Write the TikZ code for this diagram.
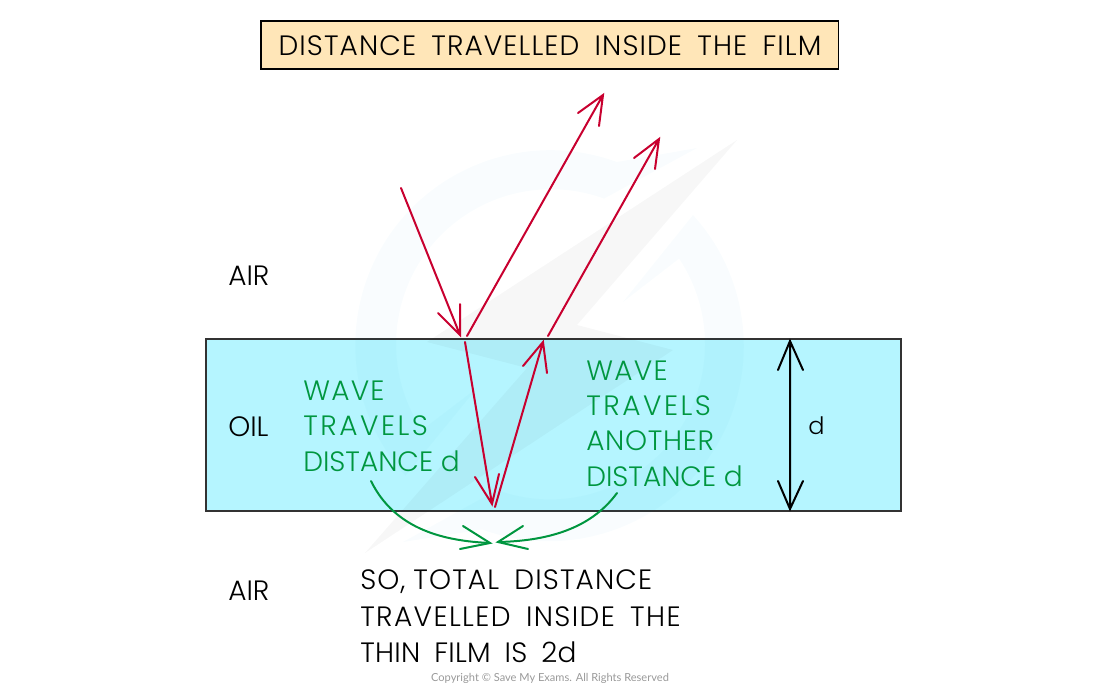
\documentclass[tikz,border=0pt]{standalone}
\usepackage{fontspec}
\setmainfont{Poppins}[UprightFont={* Light}]
\newfontfamily\copyfont{Lato}
\newcommand{\spaced}[3]{{\addfontfeature{LetterSpace=#1}\spaceskip=#2pt\relax #3}}
\usetikzlibrary{arrows.meta}
\definecolor{redray}{HTML}{C8002F}
\definecolor{greentxt}{HTML}{00963F}
\definecolor{oilfill}{HTML}{B5F5FF}
\definecolor{titlefill}{HTML}{FFE6B8}
\definecolor{wmblue}{HTML}{0090C0}
\tikzset{
  px/.style={x=0.75pt,y=-0.75pt},
  plainray/.style={draw=redray,line width=1.5pt,line cap=round},
  greenline/.style={draw=greentxt,line width=1.5pt,line cap=round},
  blackline/.style={draw=black,line width=1.5pt,line cap=round},
  lab/.style={anchor=west,inner sep=0pt,font=\fontsize{21}{21}\selectfont,text=black},
  glab/.style={lab,text=greentxt},
  wmring/.style={fill=wmblue,fill opacity=0.022},
  wmbolt/.style={fill=black,fill opacity=0.03},
}
\begin{document}
\begin{tikzpicture}[px]
\useasboundingbox (0,0) rectangle (1100,693);
% title
\node[draw=black,line width=1pt,fill=titlefill,minimum width=433pt,minimum height=36pt,inner sep=0pt] (title) at (549.5,45) {};
\node[inner sep=0pt,font=\fontsize{21}{21}\selectfont,text=black] (titletext) at (550,46) {\spaced{3.9}{11.5}{DISTANCE TRAVELLED INSIDE THE FILM}};
% oil
\node[draw=black!80,line width=1.5pt,fill=oilfill,minimum width=521pt,minimum height=129pt,inner sep=0pt] (oil) at (553.5,424.5) {};
% watermark
\fill[wmring] (697,148) -- (617,162) arc[start angle=70,end angle=222,radius=146.25pt] -- (477,388) -- (422,430) arc[start angle=213.6,end angle=70,radius=116.25pt] -- cycle;
\fill[wmring] (693,215) arc[start angle=42.3,end angle=-110,radius=146.25pt] -- (403,542) -- (497,490) arc[start angle=-110,end angle=33.6,radius=116.25pt] -- (623,302) -- cycle;
\fill[wmbolt] (737,140) -- (577,325) -- (673,350) -- (365,553) -- (527,368) -- (427,342) -- cycle;
% labels
\node[lab] (air1) at (228,276) {AIR};
\node[lab] (oillab) at (228,427) {OIL};
\node[lab] (air2) at (228,591) {AIR};
\node[lab,font=\fontsize{18}{18}\selectfont] (dlab) at (808,426) {d};
\node[glab] (w1) at (303,391) {\spaced{4.5}{7}{WAVE}};
\node[glab] (w2) at (303,426) {\spaced{9}{7}{TRAVELS}};
\node[glab] (w3) at (303,461) {DISTANCE d};
\node[glab] (a1) at (586,371) {\spaced{4.5}{7}{WAVE}};
\node[glab] (a2) at (586,406) {\spaced{9}{7}{TRAVELS}};
\node[glab] (a3) at (586,441) {\spaced{2.5}{7}{ANOTHER}};
\node[glab] (a4) at (586,476) {DISTANCE d};
\node[lab] (s1) at (360,582) {\spaced{4}{11.5}{{\spaceskip=6pt\relax SO, }TOTAL DISTANCE}};
\node[lab] (s2) at (360,617) {\spaced{5}{11.5}{TRAVELLED INSIDE THE}};
\node[lab] (s3) at (360,652) {\spaced{1}{10.5}{THIN FILM IS 2d}};
\node[inner sep=0pt,font=\copyfont\fontsize{8.3}{8.3}\selectfont,text=black!40] (copy) at (550,678) {Copyright © Save My Exams. All Rights Reserved};
% coordinates
\coordinate (r1a) at (401,188); \coordinate (r1b) at (460,335);
\coordinate (r2a) at (467,336); \coordinate (r2b) at (603,95);
\coordinate (r3a) at (548,336); \coordinate (r3b) at (659,139);
\coordinate (r4a) at (465,342); \coordinate (r4b) at (492,504);
\coordinate (r5a) at (495,507); \coordinate (r5b) at (543,342);
\coordinate (d1) at (790,341); \coordinate (d2) at (790,509);
\coordinate (g1a) at (371,481); \coordinate (g1b) at (490,543);
\coordinate (g2a) at (617,493); \coordinate (g2b) at (498,542);
% rays
\draw[plainray] (r1a) -- (r1b) (438,313) -- (r1b) -- (460,304);
\draw[plainray] (r2a) -- (r2b) (578,113) -- (r2b) -- (599,126);
\draw[plainray] (r3a) -- (r3b) (634,158) -- (r3b) -- (655,169);
\draw[plainray] (r4a) -- (r4b) (475,477) -- (r4b) -- (499,474);
\draw[plainray] (r5a) -- (r5b) (523,366) -- (r5b) -- (547,373);
% d arrow
\draw[blackline] (d1) -- (d2) (778,370) -- (d1) -- (803,370) (778,481) -- (d2) -- (803,481);
% green curves
\draw[greenline] (g1a) .. controls (395,530) and (445,541) .. (g1b);
\draw[greenline] (463,526) -- (g1b) -- (460,549);
\draw[greenline] (g2a) .. controls (590,530) and (545,541) .. (g2b);
\draw[greenline] (523,526) -- (g2b) -- (528,549);
\end{tikzpicture}
\end{document}
